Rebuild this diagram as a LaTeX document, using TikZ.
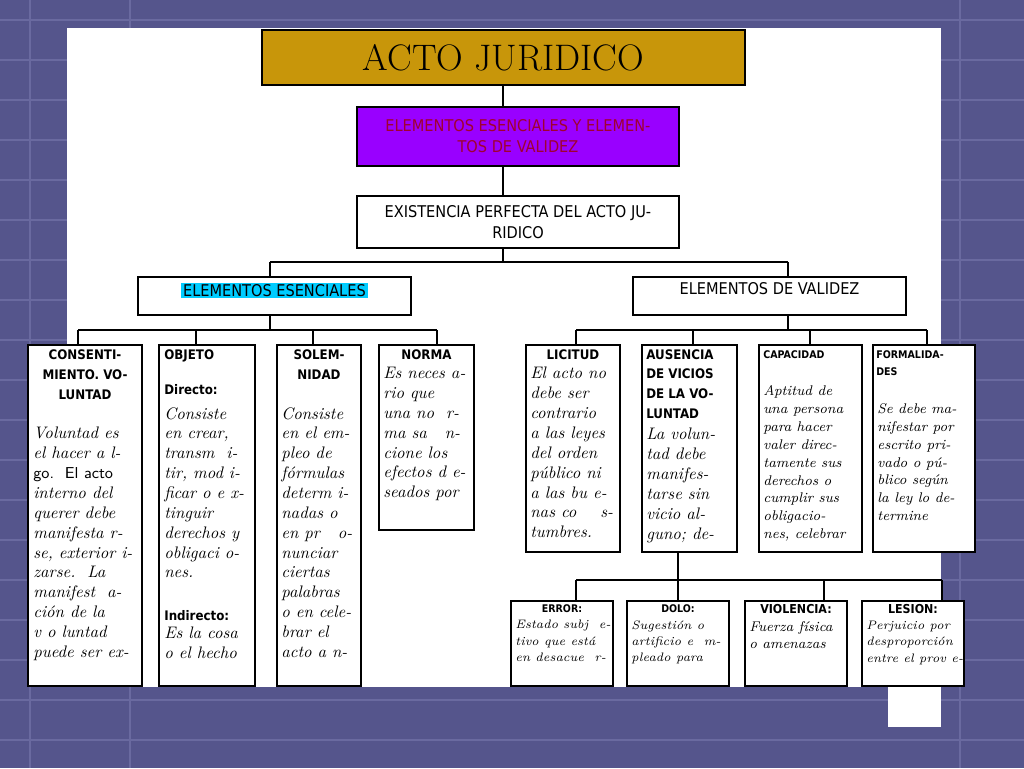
\documentclass[tikz,border=0pt]{standalone}
\usepackage{fontspec}
\usetikzlibrary{fit}
\newfontfamily\hd{DejaVu Sans Condensed}
\definecolor{bgblue}{HTML}{55558C}
\definecolor{gridc}{HTML}{6A6AA0}
\definecolor{gold}{HTML}{C8960A}
\definecolor{purp}{HTML}{9900FF}
\definecolor{dred}{HTML}{A00030}
\definecolor{cyanh}{HTML}{00CCFF}
\tikzset{
 bx/.style={draw=black, line width=0.9pt, inner sep=0pt, fill=white},
 ln/.style={draw=black, line width=0.7pt},
 hdr/.style={font=\hd\bfseries\fontsize{7.5}{11.3}\selectfont, align=center, inner sep=0pt},
 body/.style={font=\itshape\fontsize{9.5}{11.3}\selectfont, align=left, inner sep=0pt},
 big/.style={font=\hd\fontsize{9.2}{12}\selectfont, align=center, inner sep=0pt}
}
\begin{document}
\begin{tikzpicture}[x=0.02cm,y=-0.02cm]
\useasboundingbox (0,0) rectangle (1024,768);
\fill[bgblue] (0,0) rectangle (1024,768);
\foreach \y in {20,60,100,140,180,220,260,300,340,380,420,460,500,540,580,620,660,700,740}
  \draw[gridc, line width=1.5pt] (0,\y) -- (1024,\y);
\foreach \x in {30,130,960}
  \draw[gridc, line width=1.5pt] (\x,0) -- (\x,768);
\fill[white] (67,28) rectangle (941,687);
\fill[white] (888,687) rectangle (941,727);
% top
\node[bx, fill=gold, fit={(262,30)(745,85)}] (acto) {};
\node[font=\fontsize{21}{24}\selectfont] at (acto) {ACTO JURIDICO};
\node[bx, fill=purp, fit={(357,107)(679,166)}] (elem) {};
\node[big, text=dred] at (elem) {ELEMENTOS ESENCIALES Y ELEMEN-\\TOS DE VALIDEZ};
\node[bx, fit={(357,196)(679,248)}] (exis) {};
\node[big] at (exis) {EXISTENCIA PERFECTA DEL ACTO JU-\\RIDICO};
\node[bx, fit={(138,277)(411,315)}] (ese) {};
\node[big, fill=cyanh, inner sep=1pt, anchor=north] at ([yshift=-0.12cm]ese.north) {ELEMENTOS ESENCIALES};
\node[bx, fit={(633,277)(906,315)}] (val) {};
\node[big, anchor=north] at ([yshift=-0.12cm]val.north) {ELEMENTOS DE VALIDEZ};
\coordinate (j1) at (503,262);
\draw[ln] (acto.south -| j1) -- (elem.north -| j1);
\draw[ln] (elem.south -| j1) -- (exis.north -| j1);
\draw[ln] (exis.south -| j1) -- (j1);
\coordinate (ja) at (270,262);
\coordinate (jb) at (788,262);
\draw[ln] (ja) -- (jb);
\draw[ln] (ja) -- (ese.north -| ja);
\draw[ln] (jb) -- (val.north -| jb);
% children boxes
\node[bx, fit={(28,345)(142,686)}] (c1) {};
\node[bx, fit={(159,345)(255,686)}] (c2) {};
\node[bx, fit={(277,345)(361,686)}] (c3) {};
\node[bx, fit={(379,345)(474,530)}] (c4) {};
\node[bx, fit={(526,345)(620,552)}] (v1) {};
\node[bx, fit={(642,345)(737,552)}] (v2) {};
\node[bx, fit={(759,345)(862,552)}] (v3) {};
\node[bx, fit={(873,345)(975,552)}] (v4) {};
\node[bx, fit={(511,601)(613,686)}] (e1) {};
\node[bx, fit={(627,601)(729,686)}] (e2) {};
\node[bx, fit={(745,601)(847,686)}] (e3) {};
\node[bx, fit={(862,601)(964,686)}] (e4) {};
% connectors esenciales
\draw[ln] (ese.south -| ja) -- (270,330);
\draw[ln] (78,330) -- (437,330);
\draw[ln] (78,330) -- (c1.north -| 78,0);
\draw[ln] (196,330) -- (c2.north -| 196,0);
\draw[ln] (313,330) -- (c3.north -| 313,0);
\draw[ln] (437,330) -- (c4.north -| 437,0);
% connectors validez
\draw[ln] (val.south -| jb) -- (788,330);
\draw[ln] (576,330) -- (927,330);
\draw[ln] (576,330) -- (v1.north -| 576,0);
\draw[ln] (693,330) -- (v2.north -| 693,0);
\draw[ln] (810,330) -- (v3.north -| 810,0);
\draw[ln] (927,330) -- (v4.north -| 927,0);
% vicios
\draw[ln] (v2.south -| 678,0) -- (678,580);
\draw[ln] (576,580) -- (942,580);
\draw[ln] (576,580) -- (e1.north -| 576,0);
\draw[ln] (678,580) -- (e2.north -| 678,0);
\draw[ln] (824,580) -- (e3.north -| 824,0);
\draw[ln] (942,580) -- (e4.north -| 942,0);
% texts
\node[hdr, anchor=north] at ([yshift=-0.1cm]c1.north) {CONSENTI-\\MIENTO. VO-\\LUNTAD};
\node[body, anchor=north west] at (33,427) {Voluntad es\\el hacer a l-\\{\upshape\sffamily\small go.\ \ El acto}\\interno del\\querer debe\\manifesta r-\\se, exterior i-\\zarse.\ \ La\\manifest\ \ a-\\ción de la\\v o luntad\\puede ser ex-};
\node[hdr, anchor=north west, align=left] at (164,349) {OBJETO\\[9pt]Directo:};
\node[body, anchor=north west] at (164,407) {Consiste\\en crear,\\transm\ \ i-\\tir, mod i-\\ficar o e x-\\tinguir\\derechos y\\obligaci o-\\nes.};
\node[hdr, anchor=north west, align=left] at (164,610) {Indirecto:};
\node[body, anchor=north west] at (164,627) {Es la cosa\\o el hecho};
\node[hdr, anchor=north] at ([yshift=-0.1cm]c3.north) {SOLEM-\\NIDAD};
\node[body, anchor=north west] at (281,407) {Consiste\\en el em-\\pleo de\\fórmulas\\determ i-\\nadas o\\en pr\ \ \ o-\\nunciar\\ciertas\\palabras\\o en cele-\\brar el\\acto a n-};
\node[hdr, anchor=north] at ([yshift=-0.1cm]c4.north) {NORMA};
\node[body, anchor=north west] at (383,367) {Es neces a-\\rio que\\una no\ \ r-\\ma sa\ \ \ n-\\cione los\\efectos d e-\\seados por};
\node[hdr, anchor=north] at ([yshift=-0.1cm]v1.north) {LICITUD};
\node[body, anchor=north west] at (530,367) {El acto no\\debe ser\\contrario\\a las leyes\\del orden\\público ni\\a las bu e-\\nas co\ \ \ \ s-\\tumbres.};
\node[hdr, anchor=north west, align=left] at (646,349) {AUSENCIA\\DE VICIOS\\DE LA VO-\\LUNTAD};
\node[body, anchor=north west] at (646,428) {La volun-\\tad debe\\manifes-\\tarse sin\\vicio al-\\guno; de-};
\node[hdr, anchor=north west, font=\hd\bfseries\fontsize{6}{9}\selectfont] at (763,350) {CAPACIDAD};
\node[body, anchor=north west, font=\itshape\fontsize{8}{10.2}\selectfont] at (763,385) {Aptitud de\\una persona\\para hacer\\valer direc-\\tamente sus\\derechos o\\cumplir sus\\obligacio-\\nes, celebrar};
\node[hdr, anchor=north west, align=left, font=\hd\bfseries\fontsize{6}{10}\selectfont] at (876,350) {FORMALIDA-\\DES};
\node[body, anchor=north west, font=\itshape\fontsize{8}{10.2}\selectfont] at (877,403) {Se debe ma-\\nifestar por\\escrito pri-\\vado o pú-\\blico según\\la ley lo de-\\termine};
\node[hdr, anchor=north, font=\hd\bfseries\fontsize{6}{9}\selectfont] at ([yshift=-0.08cm]e1.north) {ERROR:};
\node[body, anchor=north west, font=\itshape\fontsize{7}{9.2}\selectfont] at (515,620) {Estado subj\ \ e-\\tivo que está\\en desacue\ \ r-};
\node[hdr, anchor=north, font=\hd\bfseries\fontsize{6}{9}\selectfont] at ([yshift=-0.08cm]e2.north) {DOLO:};
\node[body, anchor=north west, font=\itshape\fontsize{7}{9.2}\selectfont] at (631,620) {Sugestión o\\artificio e\ \ m-\\pleado para};
\node[hdr, anchor=north, font=\hd\bfseries\fontsize{7}{9}\selectfont] at ([yshift=-0.08cm]e3.north) {VIOLENCIA:};
\node[body, anchor=north west, font=\itshape\fontsize{8}{10}\selectfont] at (749,621) {Fuerza física\\o amenazas};
\node[hdr, anchor=north, font=\hd\bfseries\fontsize{7}{9}\selectfont] at ([yshift=-0.08cm]e4.north) {LESION:};
\node[body, anchor=north west, font=\itshape\fontsize{7}{9.2}\selectfont] at (866,621) {Perjuicio por\\desproporción\\entre el prov e-};
\end{tikzpicture}
\end{document}
